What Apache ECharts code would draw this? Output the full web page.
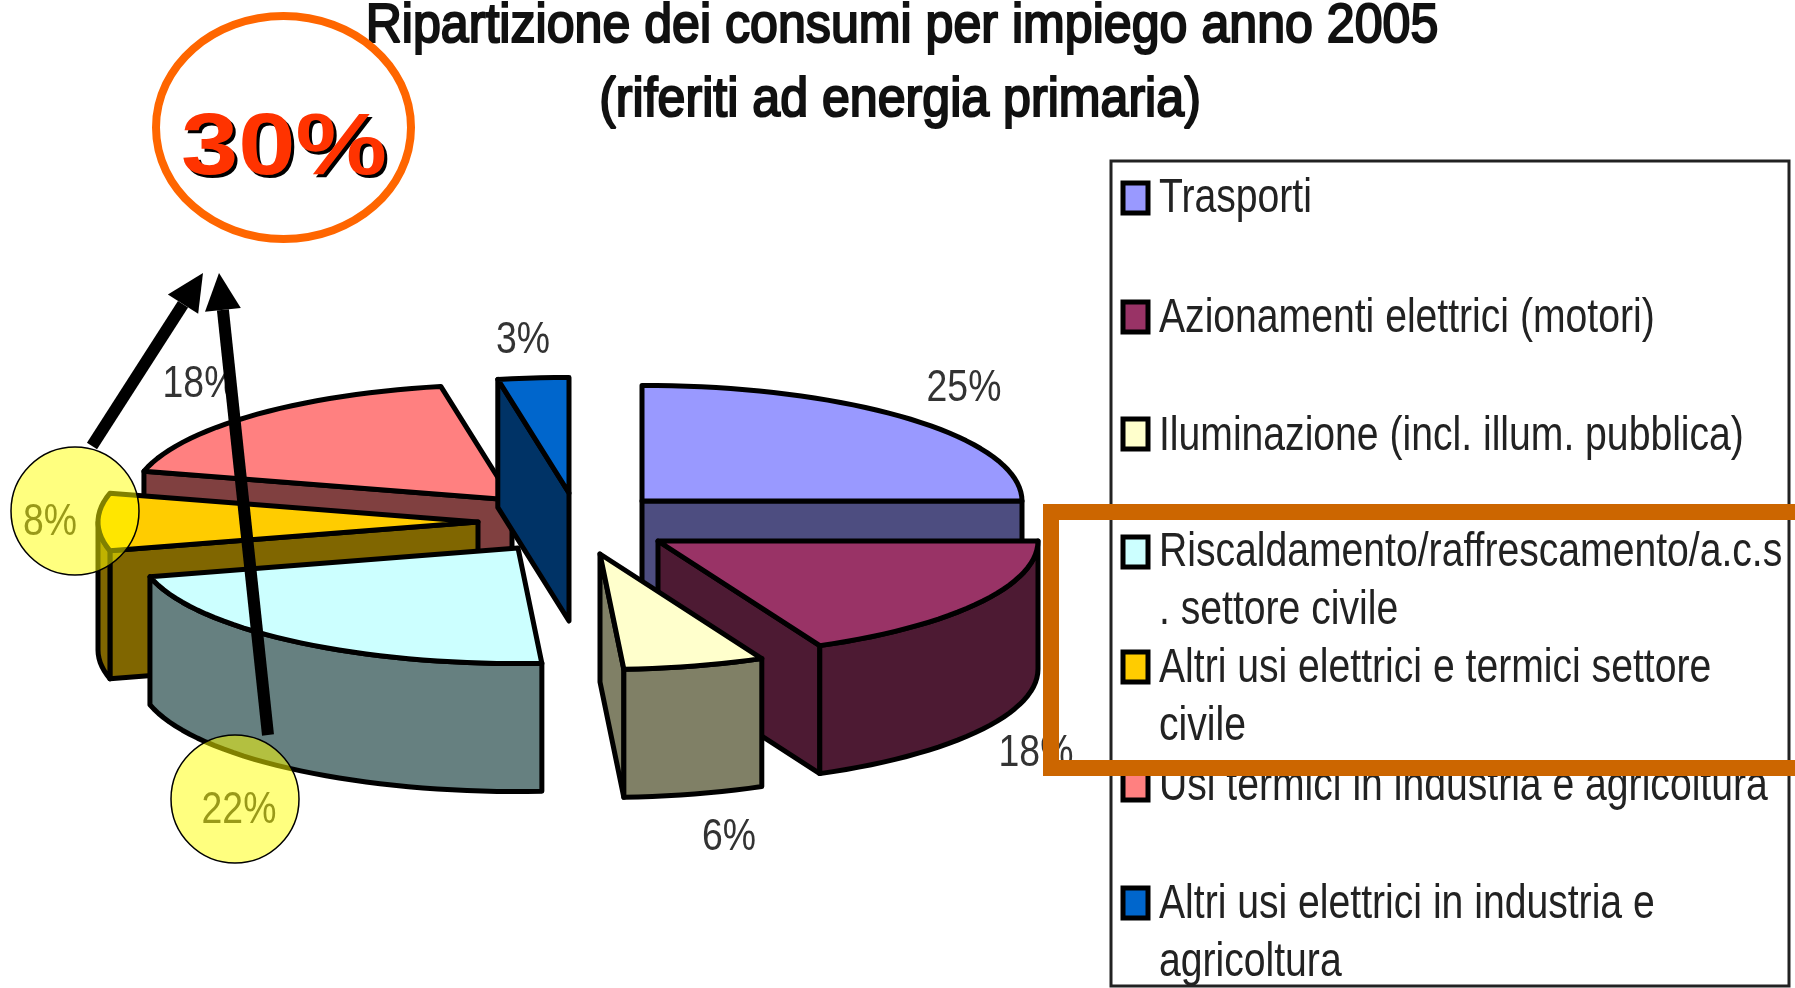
<!DOCTYPE html>
<html>
<head>
<meta charset="utf-8">
<title>Ripartizione dei consumi</title>
<style>
html, body { margin: 0; padding: 0; background: #fff; }
#chart { width: 1795px; height: 988px; }
</style>
</head>
<body>
<div id="chart"></div>
<script src="https://cdn.jsdelivr.net/npm/echarts@6/dist/echarts.min.js"></script>
<script>
var categories = [
    'Trasporti',
    'Azionamenti elettrici (motori)',
    'Iluminazione (incl. illum. pubblica)',
    'Riscaldamento/raffrescamento/a.c.s\n. settore civile',
    'Altri usi elettrici e termici settore\ncivile',
    'Usi termici in industria e agricoltura',
    'Altri usi elettrici in industria e\nagricoltura'
];
var values = [25, 18, 6, 22, 8, 18, 3];
var titleLines = ['Ripartizione dei consumi per impiego anno 2005', '(riferiti ad energia primaria)'];
var highlightLabel = '30%';

var topColors = ['#9999ff', '#993366', '#ffffcc', '#ccffff', '#ffcc00', '#ff8080', '#0066cc'];
var sideColors = ['#4d4d80', '#4d1a33', '#808066', '#668080', '#806600', '#804040', '#003366'];

// 3d pie geometry
var rx = 380, ry = 115.6, depth = 128;
var apex = [[642, 501], [658, 541], [600, 554], [518, 548], [478, 522], [512, 500], [569, 493]];
var paintOrder = [0, 5, 4, 3, 6, 1, 2];
var labelPos = [[964, 389], [1036, 754], [729, 838], [239, 811], [50, 523], [200, 385], [523, 341]];
var swatchY = [198, 317, 434, 552, 667, 785, 903];
var textY = [199, 319, 437, 553, 669, 787, 905];

var total = values.reduce(function (a, b) { return a + b; }, 0);
var starts = [];
values.reduce(function (sum, v, i) { starts[i] = sum; return sum + v; }, 0);

function toAngle(v) {
    return echarts.number.linearMap(v, [0, total], [0, Math.PI * 2]);
}

function rimPoint(c, a, drop) {
    return [c[0] + rx * Math.sin(a), c[1] - ry * Math.cos(a) + (drop || 0)];
}

function arcPoints(c, a0, a1, drop) {
    var pts = [];
    var steps = Math.max(2, Math.ceil((a1 - a0) / 0.04));
    for (var k = 0; k <= steps; k++) {
        pts.push(rimPoint(c, a0 + (a1 - a0) * k / steps, drop));
    }
    return pts;
}

function poly(points, fill) {
    return {
        type: 'polygon',
        shape: { points: points },
        style: { fill: fill, stroke: '#000', lineWidth: 5, lineJoin: 'round' }
    };
}

// side of the slice along one radius
function radialFace(c, a, fill) {
    var p = rimPoint(c, a);
    return poly([c, p, [p[0], p[1] + depth], [c[0], c[1] + depth]], fill);
}

function renderSlice(params, api) {
    var idx = api.value(2);
    var c = apex[idx];
    var a0 = toAngle(api.value(0));
    var a1 = toAngle(api.value(0) + api.value(1));
    var kids = [];

    // only faces turned to the viewer
    if (Math.sin(a0) < -1e-6) kids.push(radialFace(c, a0, sideColors[idx]));
    if (Math.sin(a1) > 1e-6) kids.push(radialFace(c, a1, sideColors[idx]));

    var f0 = Math.max(a0, Math.PI / 2);
    var f1 = Math.min(a1, Math.PI * 1.5);
    if (f1 > f0) {
        var front = arcPoints(c, f0, f1).concat(arcPoints(c, f0, f1, depth).reverse());
        kids.push(poly(front, sideColors[idx]));
    }
    kids.push(poly([c].concat(arcPoints(c, a0, a1)), topColors[idx]));
    return { type: 'group', children: kids };
}

function label(text, x, y, opt) {
    opt = opt || {};
    return {
        type: 'text',
        x: x,
        y: y,
        scaleX: opt.sx || 1,
        style: {
            text: text,
            fill: opt.color || '#222',
            stroke: opt.stroke,
            lineWidth: opt.strokeWidth,
            font: (opt.weight || 'normal') + ' ' + opt.size + 'px "Liberation Sans"',
            textAlign: opt.align || 'left',
            textVerticalAlign: 'middle'
        }
    };
}

function arrow(from, to) {
    var dx = to[0] - from[0], dy = to[1] - from[1];
    var len = Math.sqrt(dx * dx + dy * dy);
    var ux = dx / len, uy = dy / len;
    var headLen = 37, headHalf = 18;
    var bx = to[0] - ux * headLen, by = to[1] - uy * headLen;
    return [
        {
            type: 'line',
            shape: { x1: from[0], y1: from[1], x2: bx, y2: by },
            style: { stroke: '#000', lineWidth: 12 }
        },
        {
            type: 'polygon',
            shape: { points: [to, [bx - uy * headHalf, by + ux * headHalf], [bx + uy * headHalf, by - ux * headHalf]] },
            style: { fill: '#000' }
        }
    ];
}

var elements = [];
var titleStyle = { size: 56, sx: 0.895, align: 'center', color: '#111', stroke: '#111', strokeWidth: 2.2 };

// title
elements.push(label(titleLines[0], 902, 27, titleStyle));
elements.push(label(titleLines[1], 900, 101, titleStyle));

// slice percent labels
values.forEach(function (v, i) {
    elements.push(label(v + '%', labelPos[i][0], labelPos[i][1], { size: 44, sx: 0.85, align: 'center', color: '#333' }));
});

// legend box
elements.push({
    type: 'rect',
    shape: { x: 1111, y: 161, width: 678, height: 825 },
    style: { fill: 'none', stroke: '#222', lineWidth: 3 }
});
categories.forEach(function (name, i) {
    elements.push({
        type: 'rect',
        shape: { x: 1123, y: swatchY[i] - 15, width: 25, height: 30 },
        style: { fill: topColors[i], stroke: '#000', lineWidth: 5 }
    });
    name.split('\n').forEach(function (line, k) {
        elements.push(label(line, 1159, textY[i] + k * 58, { size: 48, sx: 0.815, color: '#222' }));
    });
});

// annotations
elements.push({
    type: 'rect',
    shape: { x: 1051, y: 512, width: 800, height: 256 },
    style: { fill: 'none', stroke: '#cc6600', lineWidth: 16 }
});
elements.push({
    type: 'ellipse',
    shape: { cx: 283.5, cy: 127.5, rx: 127.5, ry: 111.5 },
    style: { fill: 'none', stroke: '#ff6600', lineWidth: 8 }
});
elements.push(label(highlightLabel, 287, 153, { size: 88, weight: 'bold', sx: 1.17, align: 'center', color: '#000' }));
elements.push(label(highlightLabel, 284, 150, { size: 88, weight: 'bold', sx: 1.17, align: 'center', color: '#ff3300' }));
elements = elements.concat(arrow([92, 446], [203, 273]));
elements = elements.concat(arrow([268, 735], [219, 273]));
[[75, 511], [235, 799]].forEach(function (p) {
    elements.push({
        type: 'circle',
        shape: { cx: p[0], cy: p[1], r: 64 },
        style: { fill: 'rgba(255,255,0,0.5)', stroke: '#000', lineWidth: 1.5 }
    });
});
// keep all of it above the pie
elements.forEach(function (el) { el.z = 10; });

var chart = echarts.init(document.getElementById('chart'), null, { renderer: 'canvas' });
chart.setOption({
    animation: false,
    backgroundColor: '#fff',
    graphic: { elements: elements },
    series: [{
        type: 'custom',
        coordinateSystem: 'none',
        silent: true,
        z: 2,
        renderItem: renderSlice,
        data: paintOrder.map(function (i) { return [starts[i], values[i], i]; })
    }]
});
</script>
</body>
</html>
